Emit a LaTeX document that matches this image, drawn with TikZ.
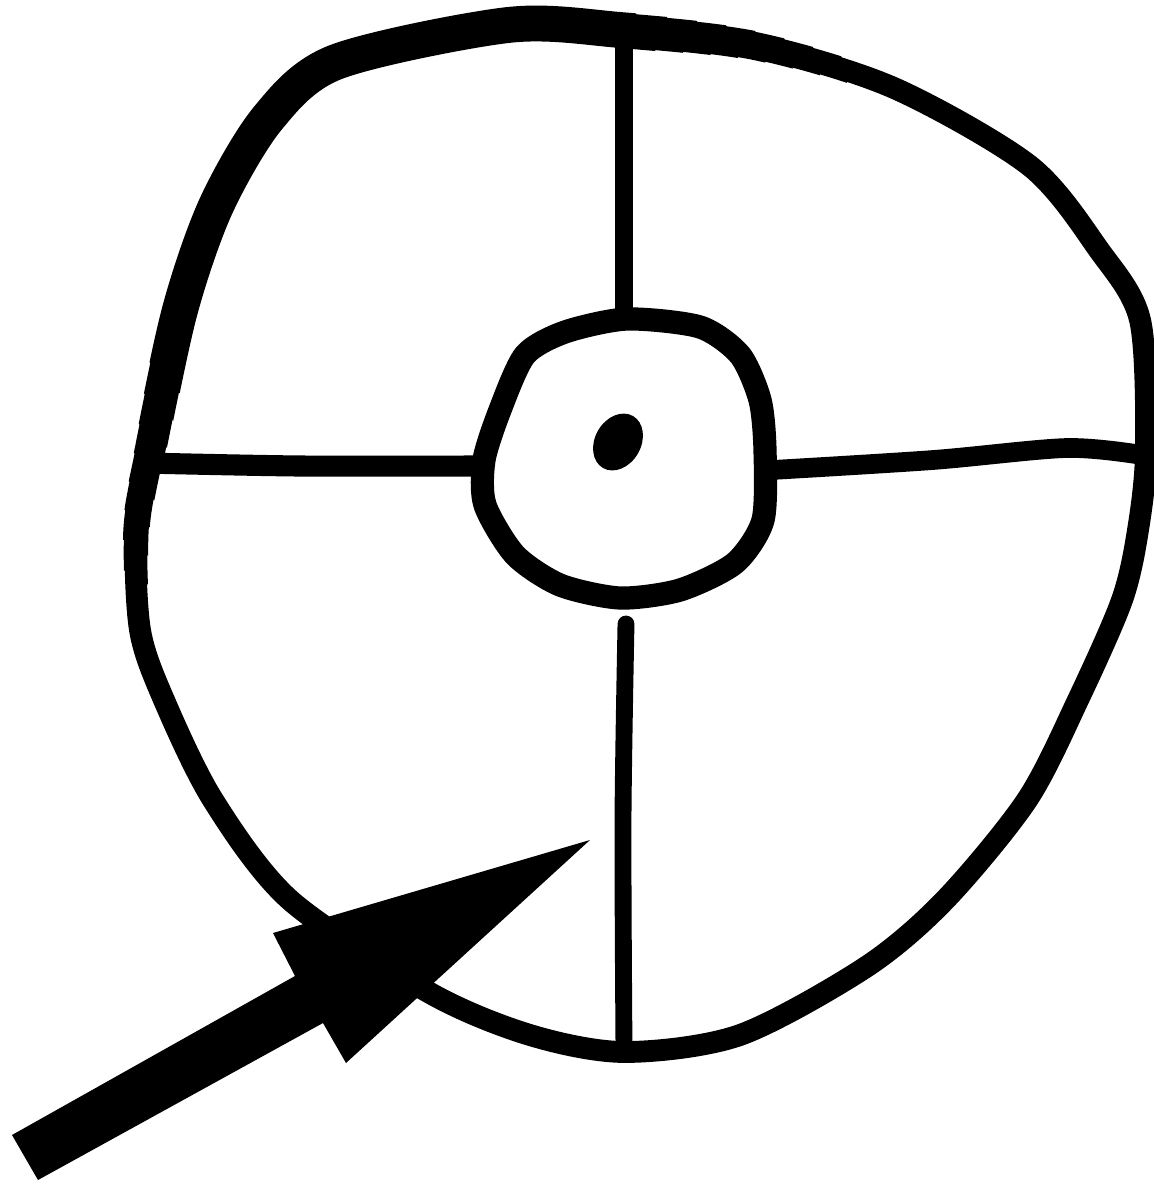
\documentclass[tikz,border=0pt]{standalone}
\usetikzlibrary{calc}

\newcommand\rimpath{plot[smooth cycle,tension=0.5] coordinates {
  (620,30) (757,46) (894,88) (1030,166) (1099,250) (1140,320)
  (1146,450) (1138,530) (1122,600) (1078,700) (1027,800) (945,900)
  (866,967) (740,1035) (625,1052) (530,1035) (430,993) (290,900)
  (213,800) (164,700) (140,630) (136,530) (150,450) (180,310)
  (216,206) (268,118) (336,62) (508,25)}}

\begin{document}
\begin{tikzpicture}[x=0.01cm,y=-0.01cm,line join=round,line cap=round]
      \useasboundingbox (0,0) rectangle (1154,1184);
      % outer rim, heavier towards the upper left
      \draw[line width=6.2pt] \rimpath;
      \foreach \i in {1,...,8}{
        \pgfmathsetmacro\w{6.2+0.5*\i}
        \pgfmathsetmacro\r{500-25*\i}
        \begin{scope}
          \clip (380,170) circle[radius=\r];
          \draw[line width=\w pt] \rimpath;
        \end{scope}
      }
      % hub
      \draw[line width=6.6pt] plot[smooth cycle,tension=0.45] coordinates {
        (627,319) (700,327) (740,355) (760,400) (765,450) (763,520)
        (735,563) (680,590) (620,598) (560,585) (515,555) (485,505)
        (484,460) (500,410) (525,355) (565,332)};
      % spokes
      \draw[line width=5.2pt] (624,40) -- (624,312);
      \draw[line width=4.8pt] plot[smooth,tension=0.5] coordinates {
        (626,624) (623,820) (624,1048)};
      \draw[line width=6pt] plot[smooth,tension=0.5] coordinates {
        (145,463) (300,466) (478,466)};
      \draw[line width=5.6pt] plot[smooth,tension=0.5] coordinates {
        (772,470) (933,460) (1067,448) (1142,455)};
      % centre dot
      \fill[rotate around={-30:(618,442)}] (618,442)
        ellipse[x radius=23,y radius=30];
      % arrow
      \fill (12,1135) -- (295,976) -- (273,933) -- (590,840) -- (346,1063)
        -- (323,1023) -- (38,1180) -- cycle;
    \end{tikzpicture}
\end{document}
